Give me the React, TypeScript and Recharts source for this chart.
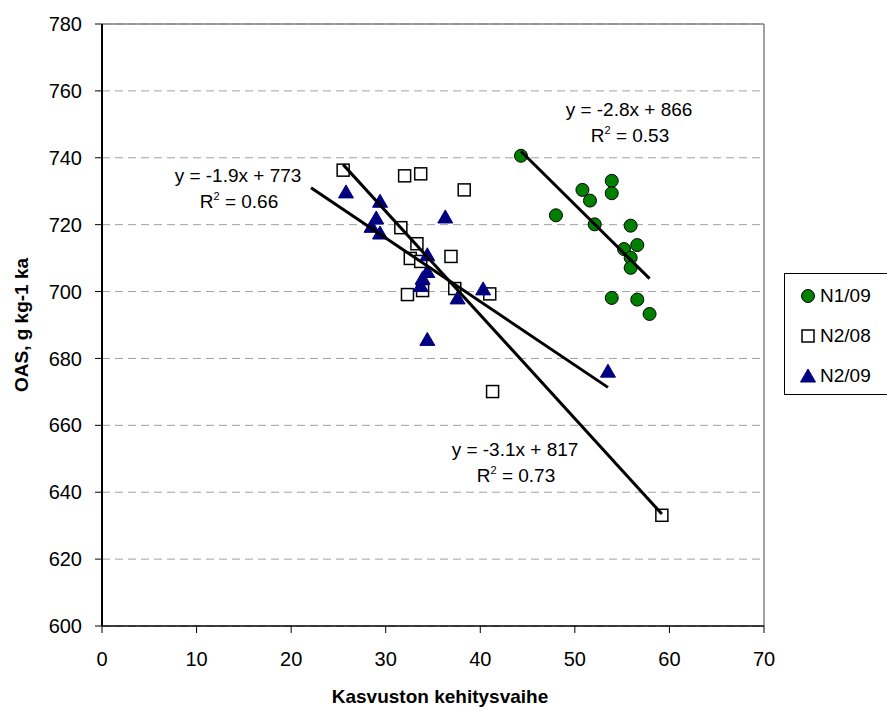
import { ScatterChart, Scatter, XAxis, YAxis, CartesianGrid, ReferenceLine } from 'recharts'

const n109X = [44.3, 48.0, 50.8, 51.6, 52.1, 53.9, 53.9, 53.9, 55.9, 55.2, 56.6, 55.9, 55.9, 56.6, 57.9]
const n109Y = [740.6, 722.8, 730.4, 727.2, 720.1, 733.1, 729.4, 698.1, 719.7, 712.7, 713.9, 710.1, 707.1, 697.6, 693.3]

const n208X = [25.5, 32.0, 33.7, 38.3, 31.6, 33.3, 32.6, 33.7, 36.9, 32.3, 33.9, 37.3, 41.0, 41.3, 59.2]
const n208Y = [736.3, 734.6, 735.2, 730.4, 719.1, 714.3, 709.9, 709.0, 710.5, 699.1, 700.3, 700.9, 699.3, 670.1, 633.1]

const n209X = [25.8, 29.4, 29.0, 28.5, 29.4, 36.3, 34.4, 34.4, 33.9, 33.7, 37.6, 40.3, 34.4, 53.5]
const n209Y = [729.8, 727.0, 722.0, 719.5, 717.5, 722.3, 711.0, 706.0, 704.0, 701.8, 698.1, 700.8, 685.7, 676.2]

// trendline equations as printed on the chart
const trends = [
  { name: 'N1/09', slope: -2.8, intercept: 866, r2: '0.53', from: Math.min(...n109X), to: Math.max(...n109X) },
  { name: 'N2/08', slope: -3.1, intercept: 817, r2: '0.73', from: Math.min(...n208X), to: Math.max(...n208X) },
  // Excel backward forecast on this one, line starts before the first point
  { name: 'N2/09', slope: -1.9, intercept: 773, r2: '0.66', from: 22.1, to: Math.max(...n209X) },
]

const xTicks = [0, 10, 20, 30, 40, 50, 60, 70]
const yTicks = [600, 620, 640, 660, 680, 700, 720, 740, 760, 780]

const FONT = '"Liberation Sans", Arial, sans-serif'
const GREEN = '#008000'
const NAVY = '#000080'

const zip = (xs: number[], ys: number[]) => xs.map((x, i) => ({ x, y: ys[i] }))

const Circle = (p: any) => <circle cx={p.cx} cy={p.cy} r={6.5} fill={GREEN} stroke="#000" strokeWidth={1} />
const Square = (p: any) => (
  <rect x={p.cx - 6} y={p.cy - 6} width={12} height={12} fill="#fff" stroke="#000" strokeWidth={1.5} />
)
const Triangle = (p: any) => (
  <polygon
    points={`${p.cx},${p.cy - 7} ${p.cx + 7.5},${p.cy + 6} ${p.cx - 7.5},${p.cy + 6}`}
    fill={NAVY}
    stroke={NAVY}
    strokeWidth={1}
  />
)
const NoShape = () => <g />

const fmtEq = (t: { slope: number; intercept: number }) => `y = ${t.slope.toFixed(1)}x + ${t.intercept}`

// label placement (centre x, baseline y of first line)
const eqPos: Record<string, [number, number]> = {
  'N1/09': [629, 116],
  'N2/08': [515, 456],
  'N2/09': [238, 182],
}

export default function App() {
  return (
    <div style={{ position: 'absolute', left: 0, top: 0, width: 887, height: 709, overflow: 'hidden', background: '#fff' }}>
      <ScatterChart width={887} height={709} margin={{ top: 24, right: 123, bottom: 0, left: 0 }}>
        <CartesianGrid horizontal vertical={false} stroke="#a0a0a0" strokeDasharray="8 5" />
        <XAxis
          type="number"
          dataKey="x"
          domain={[0, 70]}
          ticks={xTicks}
          height={83}
          tickSize={7}
          tickMargin={19}
          axisLine={{ stroke: '#000', strokeWidth: 1.5 }}
          tickLine={{ stroke: '#000' }}
          tick={{ fill: '#000', fontSize: 20, fontFamily: FONT }}
          label={{
            value: 'Kasvuston kehitysvaihe',
            position: 'insideBottom',
            offset: 6,
            dx: 7,
            style: { fill: '#000', fontSize: 19, fontWeight: 'bold', fontFamily: FONT },
          }}
        />
        <YAxis
          type="number"
          dataKey="y"
          domain={[600, 780]}
          ticks={yTicks}
          width={102}
          tickSize={7}
          tickMargin={13}
          axisLine={{ stroke: '#000', strokeWidth: 2 }}
          tickLine={{ stroke: '#000' }}
          tick={{ fill: '#000', fontSize: 20, fontFamily: FONT }}
          label={{
            value: 'OAS, g kg-1 ka',
            angle: -90,
            position: 'insideLeft',
            offset: 21,
            textAnchor: 'middle',
            style: { textAnchor: 'middle', fill: '#000', fontSize: 19, fontWeight: 'bold', fontFamily: FONT },
          }}
        />
        <ReferenceLine y={780} stroke="#808080" strokeWidth={1.5} />
        <ReferenceLine x={70} stroke="#808080" strokeWidth={1.5} />

        <Scatter name="N1/09" data={zip(n109X, n109Y)} shape={Circle} isAnimationActive={false} />
        <Scatter name="N2/08" data={zip(n208X, n208Y)} shape={Square} isAnimationActive={false} />
        <Scatter name="N2/09" data={zip(n209X, n209Y)} shape={Triangle} isAnimationActive={false} />

        {trends.map((t) => (
          <Scatter
            key={'trend-' + t.name}
            data={[
              { x: t.from, y: t.slope * t.from + t.intercept },
              { x: t.to, y: t.slope * t.to + t.intercept },
            ]}
            line={{ stroke: '#000', strokeWidth: 3 }}
            shape={NoShape}
            legendType="none"
            isAnimationActive={false}
          />
        ))}
      </ScatterChart>

      {/* trendline equations */}
      <svg width={887} height={709} style={{ position: 'absolute', left: 0, top: 0, pointerEvents: 'none' }}>
        {trends.map((t) => {
          const [cx, by] = eqPos[t.name]
          return (
            <g key={'eq-' + t.name} fontFamily={FONT} fontSize={19} fill="#000" textAnchor="middle">
              <text x={cx} y={by}>{fmtEq(t)}</text>
              <text x={cx + 1} y={by + 26}>
                R<tspan fontSize={11} dy={-8}>2</tspan>
                <tspan dy={8}> = {t.r2}</tspan>
              </text>
            </g>
          )
        })}
      </svg>

      {/* legend */}
      <div
        style={{
          position: 'absolute',
          left: 784,
          top: 273,
          width: 120,
          height: 122,
          border: '1px solid #000',
          boxSizing: 'border-box',
          fontFamily: FONT,
          fontSize: 19,
        }}
      >
        {[
          { label: 'N1/09', mark: <circle cx={8} cy={8} r={6.5} fill={GREEN} stroke="#000" strokeWidth={1} /> },
          { label: 'N2/08', mark: <rect x={2} y={2} width={12} height={12} fill="#fff" stroke="#000" strokeWidth={1.5} /> },
          { label: 'N2/09', mark: <polygon points="8,1 15.5,14 0.5,14" fill={NAVY} stroke={NAVY} /> },
        ].map((it, i) => (
          <div
            key={it.label}
            style={{ position: 'absolute', left: 15, top: 22 + i * 40 - 12, height: 24, display: 'flex', alignItems: 'center' }}
          >
            <svg width={16} height={16} style={{ marginRight: 4 }}>
              {it.mark}
            </svg>
            <span>{it.label}</span>
          </div>
        ))}
      </div>
    </div>
  )
}
